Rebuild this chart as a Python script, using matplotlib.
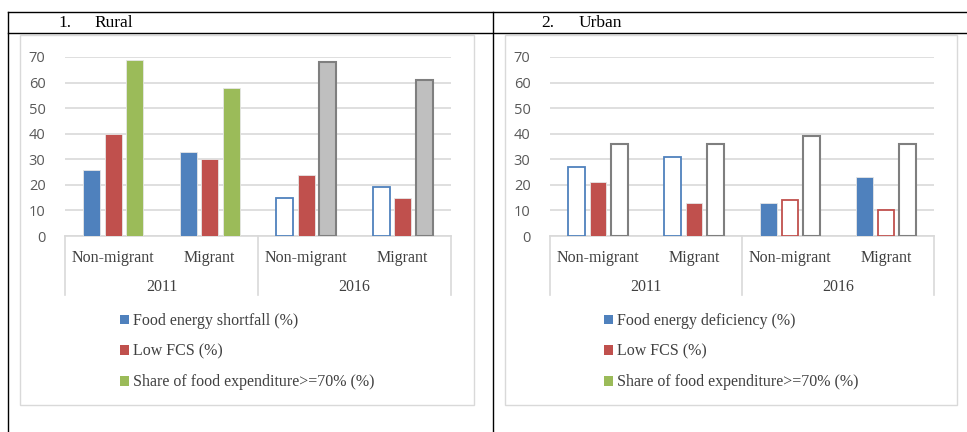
import matplotlib.pyplot as plt
import numpy as np
from matplotlib.lines import Line2D
from matplotlib.patches import Rectangle, Patch

# data
categories = ["Non-migrant", "Migrant", "Non-migrant", "Migrant"]
years = ["2011", "2016"]

rural_energy = [26, 33, 15, 19]
rural_fcs = [40, 30, 24, 15]
rural_share = [69, 58, 68, 61]

urban_energy = [27, 31, 13, 23]
urban_fcs = [21, 13, 14, 10]
urban_share = [36, 36, 39, 36]

rural_labels = ["Food energy shortfall (%)", "Low FCS (%)",
                "Share of food expenditure>=70% (%)"]
urban_labels = ["Food energy deficiency (%)", "Low FCS (%)",
                "Share of food expenditure>=70% (%)"]

BLUE = "#4F81BD"
RED = "#C0504D"
GREEN = "#9BBB59"
GRAY = "#BFBFBF"
DGRAY = "#7F7F7F"
GRID = "#D9D9D9"
SERIF = "Liberation Serif"

W, H = 967, 432


def fx(x):
    return x / W


def fy(y):
    return 1 - y / H


# per bar: "f" filled, "h" hollow, "g" grey filled, "gh" grey hollow
rural_styles = [["f", "f", "h", "h"], ["f", "f", "f", "f"], ["f", "f", "g", "g"]]
urban_styles = [["h", "h", "f", "f"], ["f", "f", "h", "h"], ["gh", "gh", "gh", "gh"]]


def draw_panel(fig, left_px, right_px, series, styles, labels, legend_x):
    ax = fig.add_axes([fx(left_px), fy(236), (right_px - left_px) / W, 179 / H])
    colors = [BLUE, RED, GREEN]
    x = np.arange(len(categories))
    offsets = [-0.223, 0, 0.223]
    for vals, st, col, off in zip(series, styles, colors, offsets):
        for xi, v, s in zip(x, vals, st):
            if s == "f":
                ax.bar(xi + off, v, 0.176, color=col, edgecolor="#E6E6E6", linewidth=0.6, zorder=3)
            elif s == "h":
                ax.bar(xi + off, v, 0.176, color="white", edgecolor=col, linewidth=1.3, zorder=3)
            elif s == "g":
                ax.bar(xi + off, v, 0.176, color=GRAY, edgecolor=DGRAY, linewidth=1.5, zorder=3)
            else:
                ax.bar(xi + off, v, 0.176, color="white", edgecolor=DGRAY, linewidth=1.5, zorder=3)
    ax.set_xlim(-0.5, 3.5)
    ax.set_ylim(0, 70)
    ax.set_yticks(range(0, 71, 10))
    ax.yaxis.grid(True, color=GRID, linewidth=1.2, zorder=0)
    ax.set_axisbelow(True)
    for s in ["top", "right", "left"]:
        ax.spines[s].set_visible(False)
    ax.spines["bottom"].set_color(GRID)
    ax.spines["bottom"].set_linewidth(1.2)
    ax.tick_params(axis="y", length=0, pad=14, labelsize=10.5, labelcolor="#595959")
    for lab in ax.get_yticklabels():
        lab.set_fontfamily("Open Sans")
    ax.set_xticks([])

    tr = ax.get_xaxis_transform()
    for xi, c in zip(x, categories):
        ax.text(xi, -0.123, c, transform=tr, ha="center", va="center",
                fontsize=11.5, family=SERIF, color="#404040")
    for i, yr in enumerate(years):
        ax.text(0.5 + 2 * i, -0.285, yr, transform=tr, ha="center", va="center",
                fontsize=11.5, family=SERIF, color="#404040")
    for xv in [-0.5, 1.5, 3.5]:
        ax.plot([xv, xv], [0, -0.33], transform=tr, color=GRID, lw=1.2, clip_on=False)

    handles = [Patch(facecolor=c, edgecolor="none") for c in colors]
    fig.legend(handles, labels, loc="upper left", bbox_to_anchor=(fx(legend_x), fy(313)),
               frameon=False, ncol=1, prop={"family": SERIF, "size": 11.5},
               handlelength=0.55, handleheight=0.55, handletextpad=0.25,
               labelspacing=0.92, borderaxespad=0, borderpad=0, labelcolor="#404040")
    return ax


fig = plt.figure(figsize=(W / 100, H / 100), dpi=100)

# table lines
for (x0, y0, x1, y1) in [(8, 12, W, 12), (8, 33, W, 33), (8, 12, 8, H), (493, 12, 493, H)]:
    fig.add_artist(Line2D([fx(x0), fx(x1)], [fy(y0), fy(y1)], color="black", lw=1.0))

fig.text(fx(58), fy(23), "1.", family=SERIF, fontsize=12.5, va="center")
fig.text(fx(94), fy(23), "Rural", family=SERIF, fontsize=12.5, va="center")
fig.text(fx(541), fy(23), "2.", family=SERIF, fontsize=12.5, va="center")
fig.text(fx(579), fy(23), "Urban", family=SERIF, fontsize=12.5, va="center")

# chart frames
for (x0, x1) in [(20, 474), (505, 957)]:
    fig.add_artist(Rectangle((fx(x0), fy(405)), (x1 - x0) / W, 370 / H,
                             facecolor="none", edgecolor=GRID, lw=1.0))

draw_panel(fig, 65, 451, [rural_energy, rural_fcs, rural_share], rural_styles, rural_labels, 120)
draw_panel(fig, 550, 934, [urban_energy, urban_fcs, urban_share], urban_styles, urban_labels, 604)

fig.savefig("out.png", dpi=100)
